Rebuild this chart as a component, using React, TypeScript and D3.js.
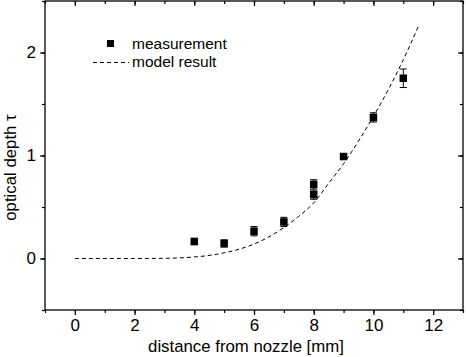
import { useEffect, useRef } from 'react';
import * as d3 from 'd3';

// measured optical depth (x in mm)
const measX = [4, 5, 6, 7, 8, 8, 9, 10, 11];
const measY = [0.165, 0.146, 0.265, 0.355, 0.72, 0.62, 0.99, 1.37, 1.75];
const measErr = [0.03, 0.035, 0.045, 0.045, 0.045, 0.045, 0.025, 0.045, 0.09];

// model result
const modelX = [0, 1, 2, 3, 3.5, 4, 4.5, 5, 5.5, 6, 6.5, 7, 7.5, 8, 8.5, 9, 9.5, 10, 10.5, 11, 11.5];
const modelY = [0, 0, 0, 0.002, 0.006, 0.015, 0.03, 0.055, 0.09, 0.14, 0.21, 0.3, 0.41, 0.54, 0.73, 0.92, 1.14, 1.38, 1.64, 1.93, 2.25];

const xTicks = [0, 2, 4, 6, 8, 10, 12];
const yTicks = [0, 1, 2];

export default function App() {
  const ref = useRef<SVGSVGElement>(null);

  useEffect(() => {
    const width = 466;
    const height = 357;
    const margin = { top: 1, right: 3, bottom: 47, left: 45 };
    const font = 'Liberation Sans, Arial, sans-serif';

    const svg = d3.select(ref.current);
    svg.selectAll('*').remove();

    const x = d3.scaleLinear().domain([-1, 13]).range([margin.left, width - margin.right]);
    const y = d3.scaleLinear().domain([-0.5, 2.5]).range([height - margin.bottom, margin.top]);

    const g = svg.append('g').attr('font-family', font);

    // mirrored inner ticks on top and right
    const minorX = d3.range(-1, 14, 1);
    const minorY = d3.range(-0.5, 2.51, 0.5);

    const bottom = g.append('g').attr('transform', `translate(0,${y(-0.5)})`);
    bottom.call(d3.axisBottom(x).tickValues(minorX).tickSize(3).tickFormat(() => ''));
    bottom.call(g2 => g2.select('.domain').remove());
    const bottomMajor = g.append('g').attr('transform', `translate(0,${y(-0.5)})`)
      .call(d3.axisBottom(x).tickValues(xTicks).tickSize(5).tickPadding(4).tickFormat(d3.format('d')));
    bottomMajor.selectAll('text').attr('font-size', 17).attr('font-family', font).attr('fill', '#000');

    const left = g.append('g').attr('transform', `translate(${x(-1)},0)`);
    left.call(d3.axisLeft(y).tickValues(minorY).tickSize(3).tickFormat(() => ''));
    left.call(g2 => g2.select('.domain').remove());
    const leftMajor = g.append('g').attr('transform', `translate(${x(-1)},0)`)
      .call(d3.axisLeft(y).tickValues(yTicks).tickSize(5).tickPadding(4).tickFormat(d3.format('d')));
    leftMajor.selectAll('text').attr('font-size', 17).attr('font-family', font).attr('fill', '#000');

    g.append('g').attr('transform', `translate(0,${y(2.5)})`)
      .call(d3.axisBottom(x).tickValues(minorX).tickSize(3).tickFormat(() => ''))
      .call(g2 => g2.select('.domain').remove());
    g.append('g').attr('transform', `translate(0,${y(2.5)})`)
      .call(d3.axisBottom(x).tickValues(xTicks).tickSize(5).tickFormat(() => ''))
      .call(g2 => g2.select('.domain').remove());
    g.append('g').attr('transform', `translate(${x(13)},0)`)
      .call(d3.axisLeft(y).tickValues(minorY).tickSize(3).tickFormat(() => ''))
      .call(g2 => g2.select('.domain').remove());
    g.append('g').attr('transform', `translate(${x(13)},0)`)
      .call(d3.axisLeft(y).tickValues(yTicks).tickSize(5).tickFormat(() => ''))
      .call(g2 => g2.select('.domain').remove());

    g.selectAll('.domain').remove();
    g.selectAll('.tick line').attr('stroke', '#000').attr('stroke-width', 1.2);

    g.append('rect')
      .attr('x', x(-1)).attr('y', y(2.5))
      .attr('width', x(13) - x(-1)).attr('height', y(-0.5) - y(2.5))
      .attr('fill', 'none').attr('stroke', '#000').attr('stroke-width', 1.3);

    // model curve
    const line = d3.line<number>()
      .x((_, i) => x(modelX[i]))
      .y(d => y(d))
      .curve(d3.curveMonotoneX);
    g.append('path')
      .datum(modelY)
      .attr('fill', 'none')
      .attr('stroke', '#000')
      .attr('stroke-width', 1)
      .attr('stroke-dasharray', '4,3')
      .attr('d', line);

    // error bars
    const cap = 3.5;
    const eb = g.append('g').attr('stroke', '#000').attr('stroke-width', 1);
    measX.forEach((mx, i) => {
      const cx = x(mx);
      const lo = y(measY[i] - measErr[i]);
      const hi = y(measY[i] + measErr[i]);
      eb.append('line').attr('x1', cx).attr('x2', cx).attr('y1', lo).attr('y2', hi);
      eb.append('line').attr('x1', cx - cap).attr('x2', cx + cap).attr('y1', lo).attr('y2', lo);
      eb.append('line').attr('x1', cx - cap).attr('x2', cx + cap).attr('y1', hi).attr('y2', hi);
    });

    const sq = 7.5;
    g.append('g').selectAll('rect')
      .data(measY)
      .join('rect')
      .attr('x', (_, i) => x(measX[i]) - sq / 2)
      .attr('y', d => y(d) - sq / 2)
      .attr('width', sq).attr('height', sq)
      .attr('fill', '#000');

    // legend
    g.append('rect').attr('x', 107).attr('y', 40).attr('width', 7).attr('height', 7).attr('fill', '#000');
    g.append('text').attr('x', 132).attr('y', 49).attr('font-size', 15.5).text('measurement');
    g.append('line').attr('x1', 93).attr('x2', 129).attr('y1', 62.5).attr('y2', 62.5)
      .attr('stroke', '#000').attr('stroke-dasharray', '4,3');
    g.append('text').attr('x', 132).attr('y', 67).attr('font-size', 15.5).text('model result');

    // axis titles
    g.append('text')
      .attr('x', (x(-1) + x(13)) / 2 - 8).attr('y', 352)
      .attr('text-anchor', 'middle').attr('font-size', 16.8)
      .text('distance from nozzle [mm]');
    g.append('text')
      .attr('transform', `translate(16,${y(1) + 12}) rotate(-90)`)
      .attr('text-anchor', 'middle').attr('font-size', 16.8)
      .text('optical depth τ');
  }, []);

  return (
    <svg ref={ref} width={466} height={357}
      style={{ position: 'absolute', left: 0, top: 0, background: '#fff' }} />
  );
}
